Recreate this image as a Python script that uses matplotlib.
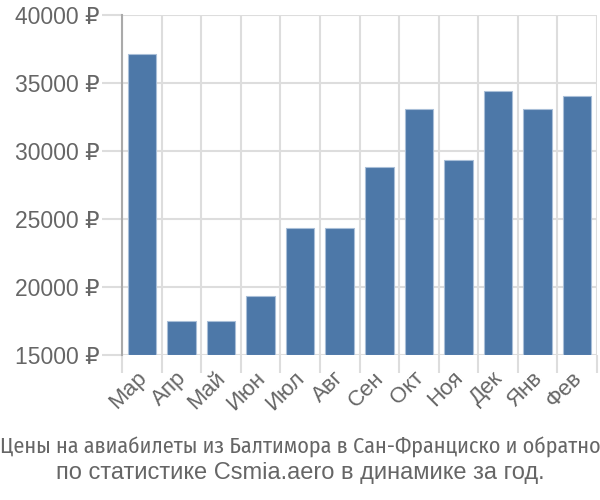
import matplotlib
matplotlib.use("Agg")
import matplotlib.pyplot as plt
from matplotlib.transforms import ScaledTranslation

months = ["Мар", "Апр", "Май", "Июн", "Июл", "Авг", "Сен", "Окт", "Ноя", "Дек", "Янв", "Фев"]
prices = [37100, 17470, 17470, 19340, 24340, 24340, 28850, 33080, 29310, 34390, 33080, 34030]
yticks = [15000, 20000, 25000, 30000, 35000, 40000]
ytick_labels = [f"{v} ₽" for v in yticks]
title_lines = ["Цены на авиабилеты из Балтимора в Сан-Франциско и обратно",
               "по статистике Csmia.aero в динамике за год."]

plt.rcParams['font.family'] = ['Liberation Sans', 'DejaVu Sans']

fig = plt.figure(figsize=(6, 5), dpi=100)
ax = fig.add_axes([122/600, 1-355/500, 475/600, 340/500])

x = list(range(len(months)))
ax.bar(x, [p - 15000 for p in prices], bottom=15000, width=0.72,
       color="#4d78a8", edgecolor="#a9bfd8", linewidth=0.8, zorder=3)

ax.set_xlim(-0.5, len(months) - 0.5)
ax.set_ylim(15000, 40000)
ax.set_yticks(yticks)
ax.set_yticklabels(ytick_labels)
ax.set_xticks([i - 0.5 for i in range(len(months) + 1)], minor=False)
ax.set_xticklabels([])
ax.set_xticks(x, minor=True)
ax.set_xticklabels(months, minor=True, rotation=45, ha='right', va='top',
                   rotation_mode='anchor', fontsize=16, color="#666666")
ax.tick_params(axis='x', which='minor', length=0, pad=9)
ax.tick_params(axis='x', which='major', length=13, color="#dddddd", width=1.5)
ax.tick_params(axis='y', length=14.4, color="#dddddd", width=1.5, labelsize=16.5,
               labelcolor="#666666", pad=1.5)
off = ScaledTranslation(-6/100, 0, fig.dpi_scale_trans)
for lab in ax.get_xticklabels(minor=True):
    lab.set_transform(lab.get_transform() + off)

ax.grid(True, which='major', color="#dddddd", linewidth=1.5, zorder=0)
for s in ["top", "right", "bottom"]:
    ax.spines[s].set_visible(False)
ax.spines["left"].set_color("#aaaaaa")
ax.spines["left"].set_linewidth(1.5)
ax.spines["left"].set_zorder(4)

fig.text(0.5, 1-447/500, title_lines[0], ha='center', va='center', fontsize=15.9,
         color="#666666", family=['Fira Sans Condensed', 'DejaVu Sans'])
fig.text(0.5, 1-473/500, title_lines[1], ha='center', va='center', fontsize=17,
         color="#666666", family=['Liberation Sans', 'DejaVu Sans'])

fig.savefig("out.png", dpi=100)
